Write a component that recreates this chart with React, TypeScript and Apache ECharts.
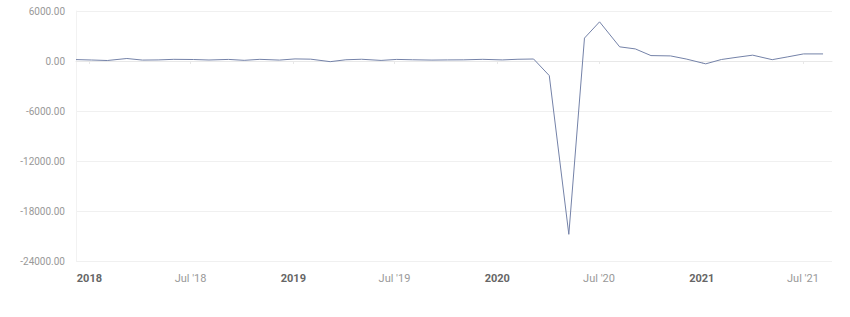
import React, { useEffect, useRef } from "react";
import * as echarts from "echarts";

const releaseDates: string[] = [
  "2017-12-08", "2018-01-05", "2018-02-02", "2018-03-09", "2018-04-06", "2018-05-04",
  "2018-06-01", "2018-07-06", "2018-08-03", "2018-09-07", "2018-10-05", "2018-11-02",
  "2018-12-07", "2019-01-04", "2019-02-01", "2019-03-08", "2019-04-05", "2019-05-03",
  "2019-06-07", "2019-07-05", "2019-08-02", "2019-09-06", "2019-10-04", "2019-11-01",
  "2019-12-06", "2020-01-10", "2020-02-07", "2020-03-06", "2020-04-03", "2020-05-08",
  "2020-06-05", "2020-07-02", "2020-08-07", "2020-09-04", "2020-10-02", "2020-11-06",
  "2020-12-04", "2021-01-08", "2021-02-05", "2021-03-05", "2021-04-02", "2021-05-07",
  "2021-06-04", "2021-07-02", "2021-08-06",
];

const values: number[] = [
  170, 120, 60, 300, 110, 130,
  200, 180, 120, 190, 80, 200,
  110, 250, 220, -80, 150, 210,
  70, 190, 150, 110, 130, 140,
  200, 130, 210, 240, -1750, -20800,
  2750, 4700, 1700, 1450, 650, 610,
  240, -340, 180, 450, 700, 160,
  500, 850, 850,
];

const yTicks = { min: -24000, max: 6000, interval: 6000 };
const xRange = { min: "2017-12-08", max: "2021-08-22" };

export default function App() {
  const ref = useRef<HTMLDivElement>(null);
  useEffect(() => {
    if (!ref.current) return;
    const chart = echarts.init(ref.current, undefined, { renderer: "svg" });
    chart.setOption({
      animation: false,
      backgroundColor: "#ffffff",
      grid: { left: 76, right: 18, top: 11, bottom: 56, containLabel: false },
      xAxis: {
        type: "time",
        min: xRange.min,
        max: xRange.max,
        splitNumber: 7,
        offset: 3,
        axisLine: { show: true, lineStyle: { color: "#e8e8e8", width: 1 } },
        axisTick: { show: true, length: 3, lineStyle: { color: "#e8e8e8" } },
        splitLine: { show: false },
        axisLabel: {
          showMinLabel: false,
          showMaxLabel: false,
          margin: 9,
          fontFamily: "Roboto",
          fontSize: 11,
          color: "#999999",
          formatter: (val: number) => {
            const d = new Date(val);
            const y = d.getFullYear();
            if (d.getMonth() === 0) return "{y|" + y + "}";
            return "{m|Jul '" + String(y).slice(2) + "}";
          },
          rich: {
            y: { fontFamily: "Roboto", fontSize: 11, fontWeight: "bold", color: "#666666" },
            m: { fontFamily: "Roboto", fontSize: 11, color: "#999999" },
          },
        },
      },
      yAxis: {
        type: "value",
        min: yTicks.min,
        max: yTicks.max,
        interval: yTicks.interval,
        axisLine: { show: true, lineStyle: { color: "#f2f2f2", width: 1 } },
        axisTick: { show: false },
        splitLine: { show: true, lineStyle: { color: "#f0f0f0", width: 1 } },
        axisLabel: {
          margin: 11,
          fontFamily: "Roboto",
          fontSize: 10,
          color: "#999999",
          formatter: (v: number) => v.toFixed(2),
        },
      },
      series: [
        {
          type: "line",
          data: releaseDates.map((d, i) => [d, values[i]]),
          showSymbol: false,
          symbol: "none",
          lineStyle: { color: "#7482a8", width: 1 },
          itemStyle: { color: "#7482a8" },
        },
      ],
    });
    return () => chart.dispose();
  }, []);
  return (
    <div
      ref={ref}
      style={{ position: "absolute", left: 0, top: 0, width: 850, height: 317 }}
    />
  );
}
